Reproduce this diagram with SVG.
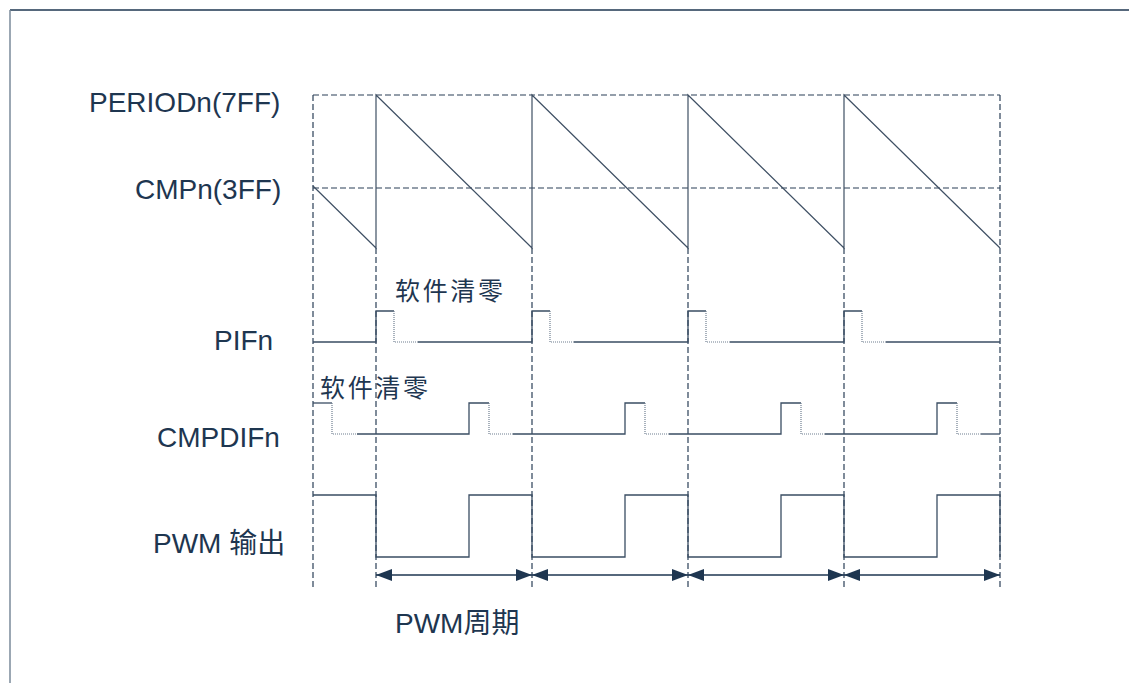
<svg xmlns="http://www.w3.org/2000/svg" width="1129" height="683" viewBox="0 0 1129 683">
<style>
.lbl{font-family:"Liberation Sans","Noto Sans CJK SC",Arial,sans-serif;font-size:28px;fill:#1e3650}
.cjk{font-family:"Noto Sans CJK SC","Liberation Sans",sans-serif;font-size:25px;fill:#1e3650}
.dash{fill:none;stroke:#2a3f57;stroke-width:1.2;stroke-dasharray:6 3}
.wave{fill:none;stroke:#3a4d63;stroke-width:1.3}
.saw{fill:none;stroke:#3f5064;stroke-width:1.2}
.dot{fill:none;stroke:#6f7f90;stroke-width:1.2;stroke-dasharray:1 1}
.arr{fill:none;stroke:#1e3650;stroke-width:1.3}
</style>
<defs>
<marker id="ah" viewBox="0 0 16 12" refX="16" refY="6" markerWidth="16" markerHeight="12" markerUnits="userSpaceOnUse" orient="auto-start-reverse">
<path d="M0,0 L16,6 L0,12 z" fill="#1e3650"/>
</marker>
</defs>
<rect width="1129" height="683" fill="#ffffff"/>
<g id="frame">
<line x1="10" y1="10" x2="1129" y2="10" stroke="#1e3650" stroke-width="1.5"/>
<line x1="10" y1="10" x2="10" y2="683" stroke="#7a8a9a" stroke-width="1.5"/>
</g>
<g id="labels">
<text id="lbl-period" class="lbl" x="89" y="112">PERIODn(7FF)</text>
<text id="lbl-cmp" class="lbl" x="135" y="199">CMPn(3FF)</text>
<text id="lbl-pif" class="lbl" x="214" y="350">PIFn</text>
<text id="lbl-cmpdif" class="lbl" x="157" y="447">CMPDIFn</text>
<text id="lbl-pwm" class="lbl" x="153" y="553">PWM 输出</text>
<text id="lbl-clear1" class="cjk" x="395" y="300" textLength="108" lengthAdjust="spacing">软件清零</text>
<text id="lbl-clear2" class="cjk" x="320" y="397" textLength="108" lengthAdjust="spacing">软件清零</text>
<text id="lbl-period-pwm" class="lbl" x="395" y="633">PWM周期</text>
</g>
<g id="guides">
<line class="dash" x1="313" y1="95" x2="1000" y2="95"/>
<line class="dash" x1="313" y1="188" x2="1000" y2="188"/>
<line class="dash" x1="313" y1="95" x2="313" y2="587"/>
<line class="dash" x1="376" y1="248" x2="376" y2="587"/>
<line class="dash" x1="532" y1="248" x2="532" y2="587"/>
<line class="dash" x1="688" y1="248" x2="688" y2="587"/>
<line class="dash" x1="844" y1="248" x2="844" y2="587"/>
<line class="dash" x1="1000" y1="95" x2="1000" y2="587"/>
</g>
<g id="counter">
<polyline class="saw" points="313,186 376,248 376,95 532,248 532,95 688,248 688,95 844,248 844,95 1000,248"/>
</g>
<g id="pif">
<polyline class="wave" points="313,342 376,342 376,311 394,311"/>
<polyline class="dot" points="394,311 394,342 418,342"/>
<polyline class="wave" points="418,342 532,342 532,311 550,311"/>
<polyline class="dot" points="550,311 550,342 574,342"/>
<polyline class="wave" points="574,342 688,342 688,311 706,311"/>
<polyline class="dot" points="706,311 706,342 730,342"/>
<polyline class="wave" points="730,342 844,342 844,311 862,311"/>
<polyline class="dot" points="862,311 862,342 886,342"/>
<polyline class="wave" points="886,342 1000,342"/>
</g>
<g id="cmpdif">
<polyline class="wave" points="313,403 332,403"/>
<polyline class="dot" points="332,403 332,434 357,434"/>
<polyline class="wave" points="357,434 469,434 469,403 489,403"/>
<polyline class="dot" points="489,403 489,434 513,434"/>
<polyline class="wave" points="513,434 625,434 625,403 645,403"/>
<polyline class="dot" points="645,403 645,434 669,434"/>
<polyline class="wave" points="669,434 781,434 781,403 801,403"/>
<polyline class="dot" points="801,403 801,434 825,434"/>
<polyline class="wave" points="825,434 937,434 937,403 957,403"/>
<polyline class="dot" points="957,403 957,434 981,434"/>
<polyline class="wave" points="981,434 1000,434"/>
</g>
<g id="pwm">
<polyline class="wave" points="313,495 376,495 376,557 469,557 469,495 532,495 532,557 625,557 625,495 688,495 688,557 781,557 781,495 844,495 844,557 937,557 937,495 1000,495 1000,557"/>
</g>
<g id="connectors">
<line class="arr" x1="376" y1="575" x2="532" y2="575" marker-start="url(#ah)" marker-end="url(#ah)"/>
<line class="arr" x1="532" y1="575" x2="688" y2="575" marker-start="url(#ah)" marker-end="url(#ah)"/>
<line class="arr" x1="688" y1="575" x2="844" y2="575" marker-start="url(#ah)" marker-end="url(#ah)"/>
<line class="arr" x1="844" y1="575" x2="1000" y2="575" marker-start="url(#ah)" marker-end="url(#ah)"/>
</g>
</svg>
